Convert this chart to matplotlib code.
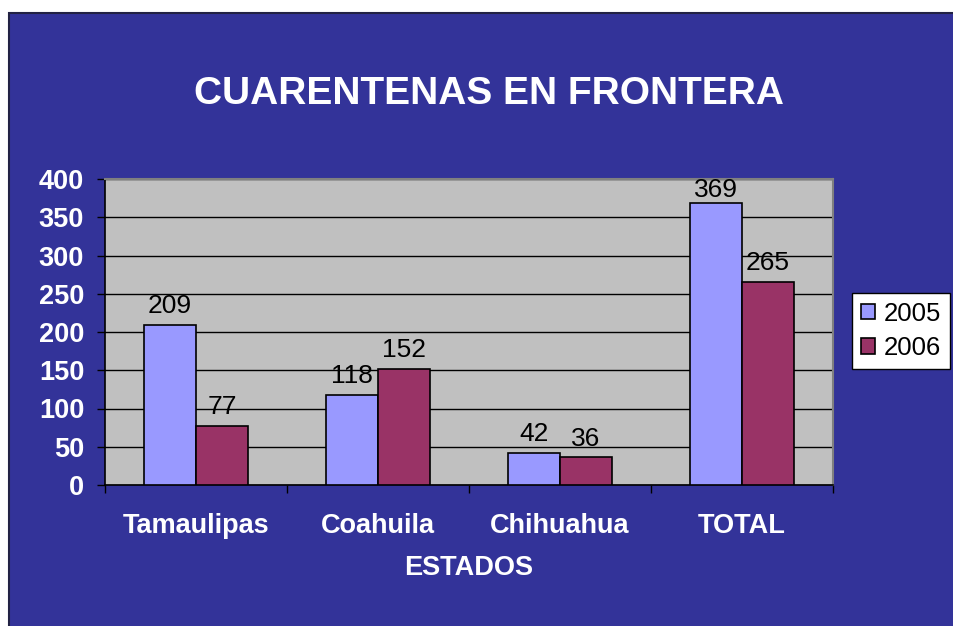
import matplotlib.pyplot as plt
import matplotlib.patches as mpatches
from matplotlib.ticker import FixedLocator
import numpy as np

plt.rcParams['font.family'] = ['Liberation Sans', 'DejaVu Sans']

estados = ['Tamaulipas', 'Coahuila', 'Chihuahua', 'TOTAL']
v2005 = [209, 118, 42, 369]
v2006 = [77, 152, 36, 265]
years = ['2005', '2006']

W, H = 954, 626
fig = plt.figure(figsize=(W / 100, H / 100), dpi=100)
fig.patch.set_facecolor('white')

# blue slide background
bg = mpatches.Rectangle((9 / W, -0.01), 1.0, 1 - 13 / H + 0.01, transform=fig.transFigure,
                        facecolor='#333399', edgecolor='#222244', linewidth=1.5, zorder=-10)
fig.patches.append(bg)

ax = fig.add_axes([105 / W, 1 - 485 / H, 728 / W, 306 / H])
ax.set_facecolor('#C0C0C0')

x = np.arange(len(estados))
bw = 52 / 182
b1 = ax.bar(x - bw / 2, v2005, bw, color='#9999FF', edgecolor='black', linewidth=1.2, zorder=3, label=years[0])
b2 = ax.bar(x + bw / 2, v2006, bw, color='#993366', edgecolor='black', linewidth=1.2, zorder=3, label=years[1])

ymax = 400
for bars in (b1, b2):
    for r in bars:
        h = r.get_height()
        cx = r.get_x() + r.get_width() / 2
        if h > ymax * 0.9:
            # label pushed inside the plot area, like Excel does
            ax.annotate(str(int(h)), (cx, ymax), xytext=(0, 1), textcoords='offset points',
                        ha='center', va='top', fontsize=19, color='black', zorder=4)
        else:
            ax.annotate(str(int(h)), (cx, h), xytext=(0, 8.5), textcoords='offset points',
                        ha='center', va='baseline', fontsize=19, color='black', zorder=4)

ax.set_xlim(-0.5, 3.5)
ax.set_ylim(0, ymax)
ax.set_yticks(range(0, ymax + 1, 50))
ax.yaxis.grid(True, color='black', linewidth=1.0, zorder=1)
ax.set_axisbelow(True)

ax.set_xticks(x)
ax.set_xticklabels(estados)
ax.xaxis.set_minor_locator(FixedLocator([-0.5, 0.5, 1.5, 2.5, 3.5]))
ax.tick_params(axis='x', which='major', length=0, pad=20, labelsize=19.5, labelcolor='white')
ax.tick_params(axis='x', which='minor', length=6, width=1, color='black', direction='out')
ax.tick_params(axis='y', length=6, width=1, color='black', pad=9, labelsize=19.5, labelcolor='white')
for lab in ax.get_xticklabels() + ax.get_yticklabels():
    lab.set_fontweight('bold')

for s in ('top', 'right'):
    ax.spines[s].set_color('#808080')
    ax.spines[s].set_linewidth(1.5)
for s in ('left', 'bottom'):
    ax.spines[s].set_color('black')
    ax.spines[s].set_linewidth(1.2)

fig.text(489 / W, 1 - 94 / H, 'CUARENTENAS EN FRONTERA', ha='center', va='center',
         fontsize=28, fontweight='bold', color='white')
fig.text(469 / W, 1 - 568 / H, 'ESTADOS', ha='center', va='center',
         fontsize=19.5, fontweight='bold', color='white')

leg = fig.legend(handles=[b1, b2], loc='center', bbox_to_anchor=(901 / W, 1 - 331 / H),
                 fontsize=18.5, frameon=True, fancybox=False, handlelength=0.56, handleheight=0.56,
                 handletextpad=0.35, borderpad=0.32, labelspacing=0.42, borderaxespad=0)
leg.get_frame().set_edgecolor('black')
leg.get_frame().set_linewidth(1.0)
leg.get_frame().set_facecolor('white')
leg.get_frame().set_alpha(1)

fig.savefig('out.png', dpi=100)
